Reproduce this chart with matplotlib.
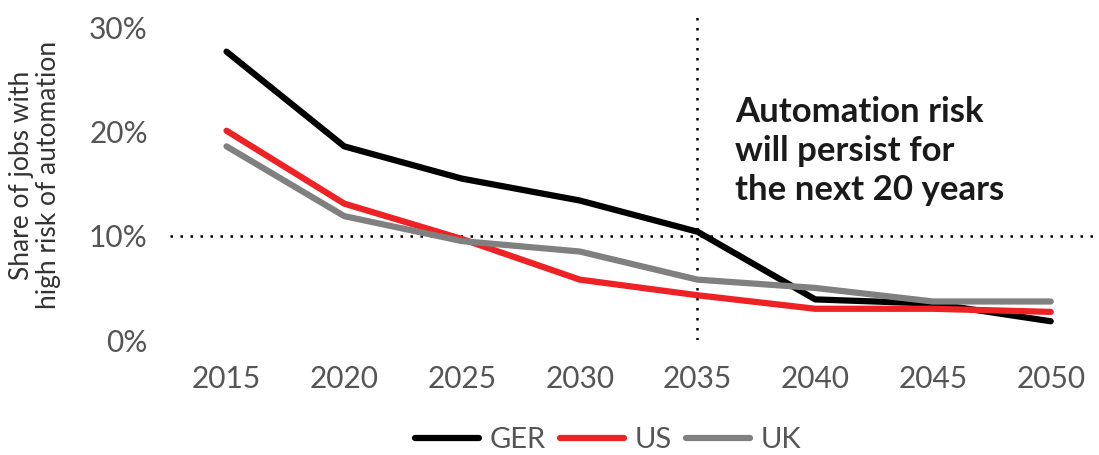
import matplotlib.pyplot as plt

years = [2015, 2020, 2025, 2030, 2035, 2040, 2045, 2050]
ger = [27.7, 18.6, 15.5, 13.4, 10.4, 3.9, 3.5, 1.8]
us = [20.1, 13.1, 9.7, 5.8, 4.3, 3.0, 3.0, 2.7]
uk = [18.6, 11.9, 9.5, 8.5, 5.8, 5.0, 3.7, 3.7]
yticks = [0, 10, 20, 30]
ytick_labels = ["0%", "10%", "20%", "30%"]

plt.rcParams["font.family"] = ["Lato", "DejaVu Sans"]

fig = plt.figure(figsize=(10.99, 4.55), dpi=100)
ax = fig.add_axes([170 / 1099, 115 / 455, 929 / 1099, 330 / 455])

ax.plot(years, ger, color="black", lw=4.5, label="GER", solid_capstyle="round", clip_on=False, zorder=3)
ax.plot(years, us, color="#ee2124", lw=4.5, label="US", solid_capstyle="round", clip_on=False, zorder=3)
ax.plot(years, uk, color="#808080", lw=4.5, label="UK", solid_capstyle="round", clip_on=False, zorder=3)

# reference lines
ax.axhline(10, color="black", lw=1.8, ls=(0, (1, 3)), zorder=2)
ax.axvline(2035, color="black", lw=1.8, ls=(0, (1, 3)), zorder=2)

ax.text(2036.6, 23.4, "Automation risk\nwill persist for\nthe next 20 years",
        fontsize=25, fontweight="bold", color="#1a1a1a", va="top", ha="left",
        linespacing=1.27)

ax.set_xlim(2012.6, 2052.05)
ax.set_ylim(0, 31.7)
ax.set_xticks(years)
ax.set_yticks(yticks)
ax.set_yticklabels(ytick_labels)
ax.tick_params(length=0, labelsize=21.5, labelcolor="#555555")
ax.tick_params(axis="y", pad=16)
ax.tick_params(axis="x", pad=18)
for s in ax.spines.values():
    s.set_visible(False)

ax.set_ylabel("Share of jobs with\nhigh risk of automation", fontsize=19,
              color="#333333", labelpad=20, linespacing=1.1)

leg = ax.legend(loc="center", bbox_to_anchor=(608 / 1099, 15 / 455),
                bbox_transform=fig.transFigure, ncol=3, frameon=False,
                fontsize=21, handlelength=2.2, handletextpad=0.35,
                columnspacing=0.5, labelcolor="#555555")

fig.savefig("out.png", dpi=100)
